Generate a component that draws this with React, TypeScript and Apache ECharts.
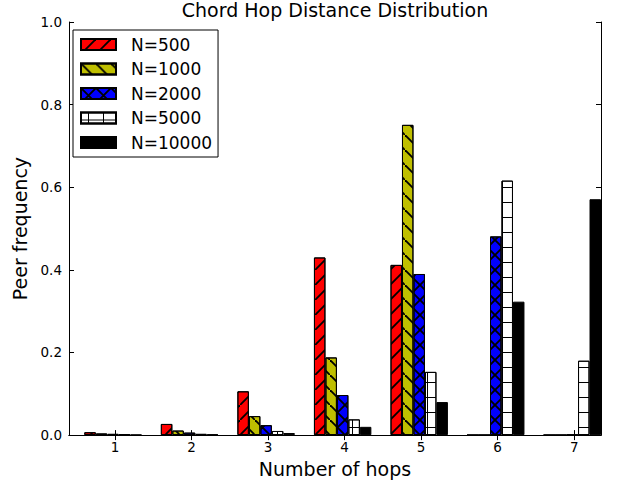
import React, { useEffect, useRef } from "react";
import * as echarts from "echarts";

const categories = [1, 2, 3, 4, 5, 6, 7];
const seriesNames = ["N=500", "N=1000", "N=2000", "N=5000", "N=10000"];
const n500 = [0.007, 0.027, 0.106, 0.43, 0.412, 0, 0];
const n1000 = [0.004, 0.011, 0.046, 0.188, 0.751, 0, 0];
const n2000 = [0.003, 0.006, 0.024, 0.097, 0.39, 0.481, 0.001];
const n5000 = [0.002, 0.003, 0.01, 0.038, 0.153, 0.616, 0.18];
const n10000 = [0.001, 0.002, 0.005, 0.02, 0.08, 0.323, 0.571];
const yTicks = [0, 0.2, 0.4, 0.6, 0.8, 1.0];

const seriesValues = [n500, n1000, n2000, n5000, n10000];
const seriesColors = ["#ff0000", "#bfbf00", "#0000ff", "#ffffff", "#000000"];

const HATCH_SLASH = "M0,13.7 L13.7,0 L15,0 L15,1.3 L1.3,15 L0,15 Z";
const HATCH_BACK = "M0,0 L1.3,0 L15,13.7 L15,15 L13.7,15 L0,1.3 Z";
const HATCH_PLUS = "M0,7 L15,7 L15,8 L0,8 Z M7,0 L8,0 L8,15 L7,15 Z";
const hatches: (string | null)[] = [
  HATCH_SLASH,
  HATCH_BACK,
  HATCH_SLASH + " " + HATCH_BACK,
  HATCH_PLUS,
  null,
];

const X_MIN = 0.4;
const X_MAX = 7.35;
const BAR_W = 0.15;
const GROUP_START = -0.4;

const GRID = { left: 69, width: 532, top: 22, height: 414 };
const W = 619;
const H = 483;
const FONT = "DejaVu Sans";

export default function App() {
  const ref = useRef<HTMLDivElement>(null);
  useEffect(() => {
    if (!ref.current) return;
    const chart = echarts.init(ref.current, null, { renderer: "svg" });
    const plotW = GRID.width;
    const barPx = (plotW / (X_MAX - X_MIN)) * BAR_W;

    const series = seriesNames.map((name, i) => {
      const hatch = hatches[i];
      const itemStyle: any = {
        color: seriesColors[i],
        borderColor: "#000",
        borderWidth: 1,
      };
      if (hatch) {
        itemStyle.decal = {
          symbol: "path://" + hatch,
          symbolSize: 1,
          symbolKeepAspect: false,
          dashArrayX: [15, 0],
          dashArrayY: [15, 0],
          color: "#000",
          rotation: 0,
        };
      }
      return {
        name,
        type: "bar",
        xAxisIndex: 0,
        yAxisIndex: 0,
        barWidth: barPx,
        barGap: "-100%",
        itemStyle,
        data: categories.map((c, k) => [
          c + GROUP_START + BAR_W * i + BAR_W / 2,
          seriesValues[i][k],
        ]),
      };
    });

    const axisLine = { show: true, lineStyle: { color: "#000", width: 1 } };
    const tick = { inside: true, length: 5, lineStyle: { color: "#000" } };

    chart.setOption({
      animation: false,
      backgroundColor: "#fff",
      grid: { ...GRID, containLabel: false },
      graphic: [
        {
          type: "text",
          x: GRID.left + plotW / 2,
          y: 0,
          style: {
            text: "Chord Hop Distance Distribution",
            fontFamily: FONT,
            fontSize: 19,
            fill: "#000",
            textAlign: "center",
            textVerticalAlign: "top",
          },
        },
      ],
      legend: {
        left: 73,
        top: 30,
        orient: "vertical",
        icon: "rect",
        itemWidth: 35,
        itemHeight: 11,
        itemGap: 6.5,
        borderColor: "#000",
        borderWidth: 1,
        backgroundColor: "#fff",
        padding: [5.5, 6, 5.5, 7],
        textStyle: {
          fontFamily: FONT,
          fontSize: 17,
          color: "#000",
          lineHeight: 18,
          padding: [0, 0, 0, 10],
        },
        data: seriesNames,
      },
      xAxis: [
        {
          type: "value",
          position: "bottom",
          min: X_MIN,
          max: X_MAX,
          axisLine,
          axisTick: { ...tick, customValues: categories },
          axisLabel: {
            customValues: categories,
            fontFamily: FONT,
            fontSize: 13.5,
            color: "#000",
            margin: 5,
          },
          splitLine: { show: false },
          name: "Number of hops",
          nameLocation: "middle",
          nameGap: 19,
          nameTextStyle: { fontFamily: FONT, fontSize: 19, color: "#000" },
        },
        {
          type: "value",
          position: "top",
          min: X_MIN,
          max: X_MAX,
          axisLine,
          axisTick: { ...tick, customValues: categories },
          axisLabel: { show: false },
          splitLine: { show: false },
        },
      ],
      yAxis: [
        {
          type: "value",
          min: 0,
          max: 1,
          interval: 0.2,
          axisLine,
          axisTick: tick,
          axisLabel: {
            fontFamily: FONT,
            fontSize: 13.5,
            color: "#000",
            margin: 7,
            formatter: (v: number) => v.toFixed(1),
          },
          splitLine: { show: false },
          name: "Peer frequency",
          nameLocation: "middle",
          nameGap: 32,
          nameRotate: 90,
          nameTextStyle: { fontFamily: FONT, fontSize: 19, color: "#000" },
        },
        {
          type: "value",
          position: "right",
          min: 0,
          max: 1,
          interval: 0.2,
          axisLine,
          axisTick: tick,
          axisLabel: { show: false },
          splitLine: { show: false },
        },
      ],
      series,
    });
    return () => chart.dispose();
  }, []);
  return (
    <div
      ref={ref}
      style={{ position: "fixed", left: 0, top: 0, width: W, height: H }}
    />
  );
}
